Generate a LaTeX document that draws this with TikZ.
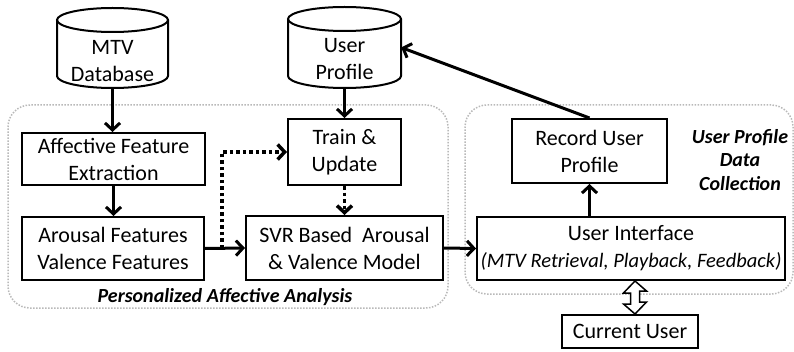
\documentclass[tikz,border=0pt]{standalone}
\usepackage{fontspec}
\setmainfont{Carlito}
\usetikzlibrary{arrows.meta,calc}
\tikzset{
  box/.style={draw,line width=2pt,align=center,inner sep=0pt,font=\fontsize{22}{27}\selectfont},
  cyltext/.style={align=center,inner sep=0pt,font=\fontsize{22}{27}\selectfont},
  conn/.style={line width=3pt,-{Straight Barb[length=7pt,width=15pt]}},
  dotconn/.style={conn,line width=3.5pt,dash pattern=on 3.5pt off 3pt},
  grp/.style={draw=gray!55,line width=1.5pt,dash pattern=on 1.5pt off 1.5pt,rounded corners=22pt},
  lbl/.style={align=center,inner sep=0pt,font=\fontsize{20}{23.5}\selectfont\bfseries\itshape},
  cyl/.style={line width=2pt},
  hollow/.style={draw,line width=1.5pt,fill=white,line join=miter}
}
\begin{document}
\begin{tikzpicture}[x=1pt,y=1pt]
\useasboundingbox (0,0) rectangle (794,351);
% group frames
\draw[grp] (8,43) rectangle (448,246);
\draw[grp] (465,57) rectangle (793,246);
% MTV Database cylinder
\draw[cyl] (57,331) -- (57,275) arc[start angle=180,end angle=360,x radius=55.5,y radius=12] -- (168,331);
\draw[cyl] (112.5,331) ellipse [x radius=55.5,y radius=12];
\node[minimum width=111,minimum height=80,inner sep=0pt] (mtv) at (112.5,303) {};
\node[cyltext] (mtvtxt) at (112.5,290) {MTV\\Database};
% User Profile cylinder
\draw[cyl] (288,332) -- (288,275) arc[start angle=180,end angle=360,x radius=56.5,y radius=12] -- (401,332);
\draw[cyl] (344.5,332) ellipse [x radius=56.5,y radius=12];
\node[minimum width=113,minimum height=81,inner sep=0pt] (up) at (344.5,303.5) {};
\node[cyltext] (uptxt) at (344.5,292) {User\\Profile};
% boxes
\node[box,minimum width=183,minimum height=52] (afe) at (113.5,192) {Affective Feature\\Extraction};
\node[box,minimum width=182,minimum height=63] (avf) at (113,102.5) {Arousal Features\\Valence Features};
\node[box,minimum width=113,minimum height=66] (tu) at (344.5,199) {Train \&\\Update};
\node[box,minimum width=197,minimum height=64] (svr) at (344.5,103) {SVR Based\ \ Arousal\\\&\ Valence\ Model};
\node[box,minimum width=155,minimum height=64] (rup) at (589.5,200) {Record User\\Profile};
\node[box,minimum width=308,minimum height=63] (ui) at (631,102.5) {User Interface\\{\fontsize{20.5}{27}\selectfont\itshape (MTV Retrieval, Playback, Feedback)}};
\node[box,minimum width=136,minimum height=33] (cu) at (630,19.5) {Current User};
% labels
\node[lbl] (paa) at (225,54) {Personalized Affective Analysis};
\node[lbl] (updc) at (740,191) {User Profile\\Data\\Collection};
% connectors
\draw[conn] (mtv.south) -- (mtv.south |- afe.north);
\draw[conn] (afe.south) -- (afe.south |- avf.north);
\draw[conn] (up.south) -- (tu.north);
\draw[dotconn] (tu.south) -- (svr.north);
\draw[conn] (avf.east) -- (svr.west);
\draw[conn] (svr.east) -- (ui.west);
\draw[conn] (ui.north -| rup.south) -- (rup.south);
\draw[conn] (rup.north) -- (up.east);
\coordinate (dj) at ($(avf.east)!0.43!(svr.west)$);
\draw[dotconn] (dj) |- (tu.west);
% double hollow arrow
\coordinate (dab) at ($(cu.north)+(5,0)$);
\coordinate (dat) at (dab |- ui.south);
\draw[hollow] (dat) -- ++(-11.5,-12) -- ++(7,0) -- ++(0,-11) -- ++(-7,0) -- (dab) -- ++(11.5,12) -- ++(-7,0) -- ++(0,11) -- ++(7,0) -- cycle;
\end{tikzpicture}
\end{document}
